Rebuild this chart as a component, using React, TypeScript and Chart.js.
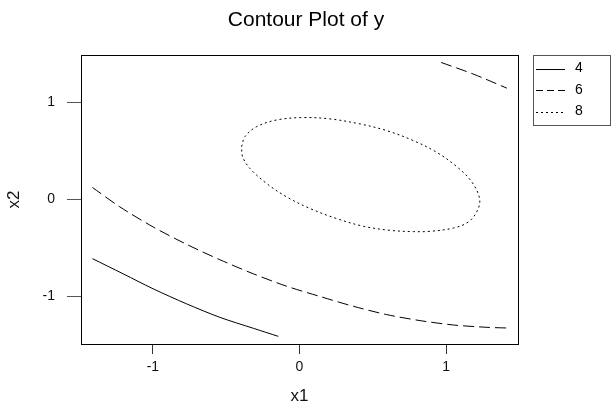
import React, { useEffect, useRef } from "react";
import { Chart, registerables } from "chart.js";

Chart.register(...registerables);

const titleText = "Contour Plot of y";
const xTitle = "x1";
const yTitle = "x2";
const xTicks = [-1, 0, 1];
const yTicks = [-1, 0, 1];
const levels = ["4", "6", "8"];

// contour y = 4
const c4X = [-1.412, -1.203, -0.998, -0.77, -0.543, -0.315, -0.145];
const c4Y = [-0.61, -0.766, -0.921, -1.076, -1.215, -1.328, -1.411];

// contour y = 6 (lower branch)
const c6aX = [-1.412, -1.225, -0.998, -0.77, -0.543, -0.315, -0.088, 0.14, 0.367, 0.595, 0.823, 1.05, 1.278, 1.414];
const c6aY = [0.124, -0.076, -0.283, -0.462, -0.621, -0.766, -0.894, -1.0, -1.101, -1.187, -1.249, -1.294, -1.318, -1.325];

// contour y = 6 (upper-right branch)
const c6bX = [0.966, 1.186, 1.414];
const c6bY = [1.413, 1.293, 1.148];

// contour y = 8 (closed loop)
const c8X = [-0.395, -0.372, -0.292, -0.156, 0.026, 0.208, 0.413, 0.595, 0.777, 0.936, 1.073, 1.175, 1.228, 1.214, 1.152, 1.05, 0.891, 0.777, 0.618, 0.436, 0.254, 0.072, -0.088, -0.224, -0.338, -0.388, -0.395];
const c8Y = [0.545, 0.648, 0.751, 0.82, 0.845, 0.831, 0.779, 0.71, 0.607, 0.486, 0.338, 0.182, 0.01, -0.111, -0.231, -0.294, -0.328, -0.331, -0.318, -0.276, -0.197, -0.093, 0.027, 0.165, 0.32, 0.441, 0.545];

const FONT = "'Liberation Sans', Arial, sans-serif";

const toPts = (xs: number[], ys: number[]) => xs.map((x, i) => ({ x, y: ys[i] }));

const dashFor: Record<string, number[]> = { "4": [], "6": [11, 5], "8": [2, 3] };
const legendDash: Record<string, number[]> = { "4": [], "6": [7, 4], "8": [2, 3] };

const framePlugin = {
  id: "frameAndDecor",
  afterDraw(chart: any) {
    const { ctx, chartArea } = chart;
    ctx.save();
    // plot frame
    ctx.strokeStyle = "#000";
    ctx.lineWidth = 1;
    ctx.setLineDash([]);
    ctx.strokeRect(
      Math.round(chartArea.left) + 0.5,
      Math.round(chartArea.top) + 0.5,
      Math.round(chartArea.right - chartArea.left),
      Math.round(chartArea.bottom - chartArea.top)
    );
    // title
    ctx.fillStyle = "#000";
    ctx.font = `21px ${FONT}`;
    ctx.textAlign = "center";
    ctx.textBaseline = "middle";
    ctx.fillText(titleText, 306, 20);
    // legend
    const lx = 533, ly = 55, lw = 77, lh = 70;
    ctx.strokeStyle = "#555";
    ctx.strokeRect(lx + 0.5, ly + 0.5, lw, lh);
    ctx.font = `14px ${FONT}`;
    ctx.textAlign = "left";
    levels.forEach((lab, i) => {
      const y = ly + 13.5 + i * 21.5;
      ctx.strokeStyle = "#000";
      ctx.setLineDash(legendDash[lab]);
      ctx.beginPath();
      ctx.moveTo(lx + 3, Math.round(y) + 0.5);
      ctx.lineTo(lx + 32, Math.round(y) + 0.5);
      ctx.stroke();
      ctx.setLineDash([]);
      ctx.fillStyle = "#000";
      ctx.fillText(lab, lx + 42, y);
    });
    ctx.restore();
  },
};

export default function App() {
  const ref = useRef<HTMLCanvasElement | null>(null);
  useEffect(() => {
    if (!ref.current) return;
    const mk = (label: string, xs: number[], ys: number[], tension: number) => ({
      label,
      data: toPts(xs, ys),
      showLine: true,
      pointRadius: 0,
      borderColor: "#000",
      borderWidth: 1,
      borderDash: dashFor[label],
      tension,
      fill: false,
    });
    const chart = new Chart(ref.current, {
      type: "scatter",
      data: {
        datasets: [
          mk("4", c4X, c4Y, 0.3),
          mk("6", c6aX, c6aY, 0.3),
          mk("6", c6bX, c6bY, 0.3),
          mk("8", c8X, c8Y, 0.35),
        ] as any,
      },
      options: {
        responsive: false,
        animation: false,
        layout: { padding: { top: 55, right: 94, left: 0, bottom: 0 } },
        plugins: {
          legend: { display: false },
          title: { display: false },
          tooltip: { enabled: false },
        },
        scales: {
          x: {
            type: "linear",
            min: -1.49,
            max: 1.49,
            afterBuildTicks: (s: any) => {
              s.ticks = xTicks.map((v) => ({ value: v }));
            },
            afterFit: (s: any) => {
              s.height = 61;
            },
            grid: { display: true, drawOnChartArea: false, drawTicks: true, tickLength: 10, color: "#333" },
            border: { display: true, color: "#000" },
            ticks: {
              color: "#111",
              font: { family: FONT, size: 14 },
              padding: 5,
              maxRotation: 0,
              callback: (v: any) => String(v),
            },
            title: {
              display: true,
              text: xTitle,
              color: "#111",
              font: { family: FONT, size: 17, lineHeight: 1 },
              padding: { top: 0, bottom: 0 },
            },
          },
          y: {
            type: "linear",
            min: -1.49,
            max: 1.49,
            afterBuildTicks: (s: any) => {
              s.ticks = yTicks.map((v) => ({ value: v }));
            },
            afterFit: (s: any) => {
              s.width = 81;
            },
            grid: { display: true, drawOnChartArea: false, drawTicks: true, tickLength: 14, color: "#555" },
            border: { display: true, color: "#000" },
            ticks: {
              color: "#111",
              font: { family: FONT, size: 14 },
              padding: 12,
              callback: (v: any) => String(v),
            },
            title: {
              display: true,
              text: yTitle,
              color: "#111",
              font: { family: FONT, size: 17, lineHeight: 1 },
              padding: { top: 6, bottom: 0 },
            },
          },
        },
      },
      plugins: [framePlugin],
    });
    return () => chart.destroy();
  }, []);
  return (
    <div style={{ position: "fixed", left: 0, top: 0, width: 612, height: 405, background: "#fff" }}>
      <canvas ref={ref} width={612} height={405} style={{ display: "block" }} />
    </div>
  );
}
